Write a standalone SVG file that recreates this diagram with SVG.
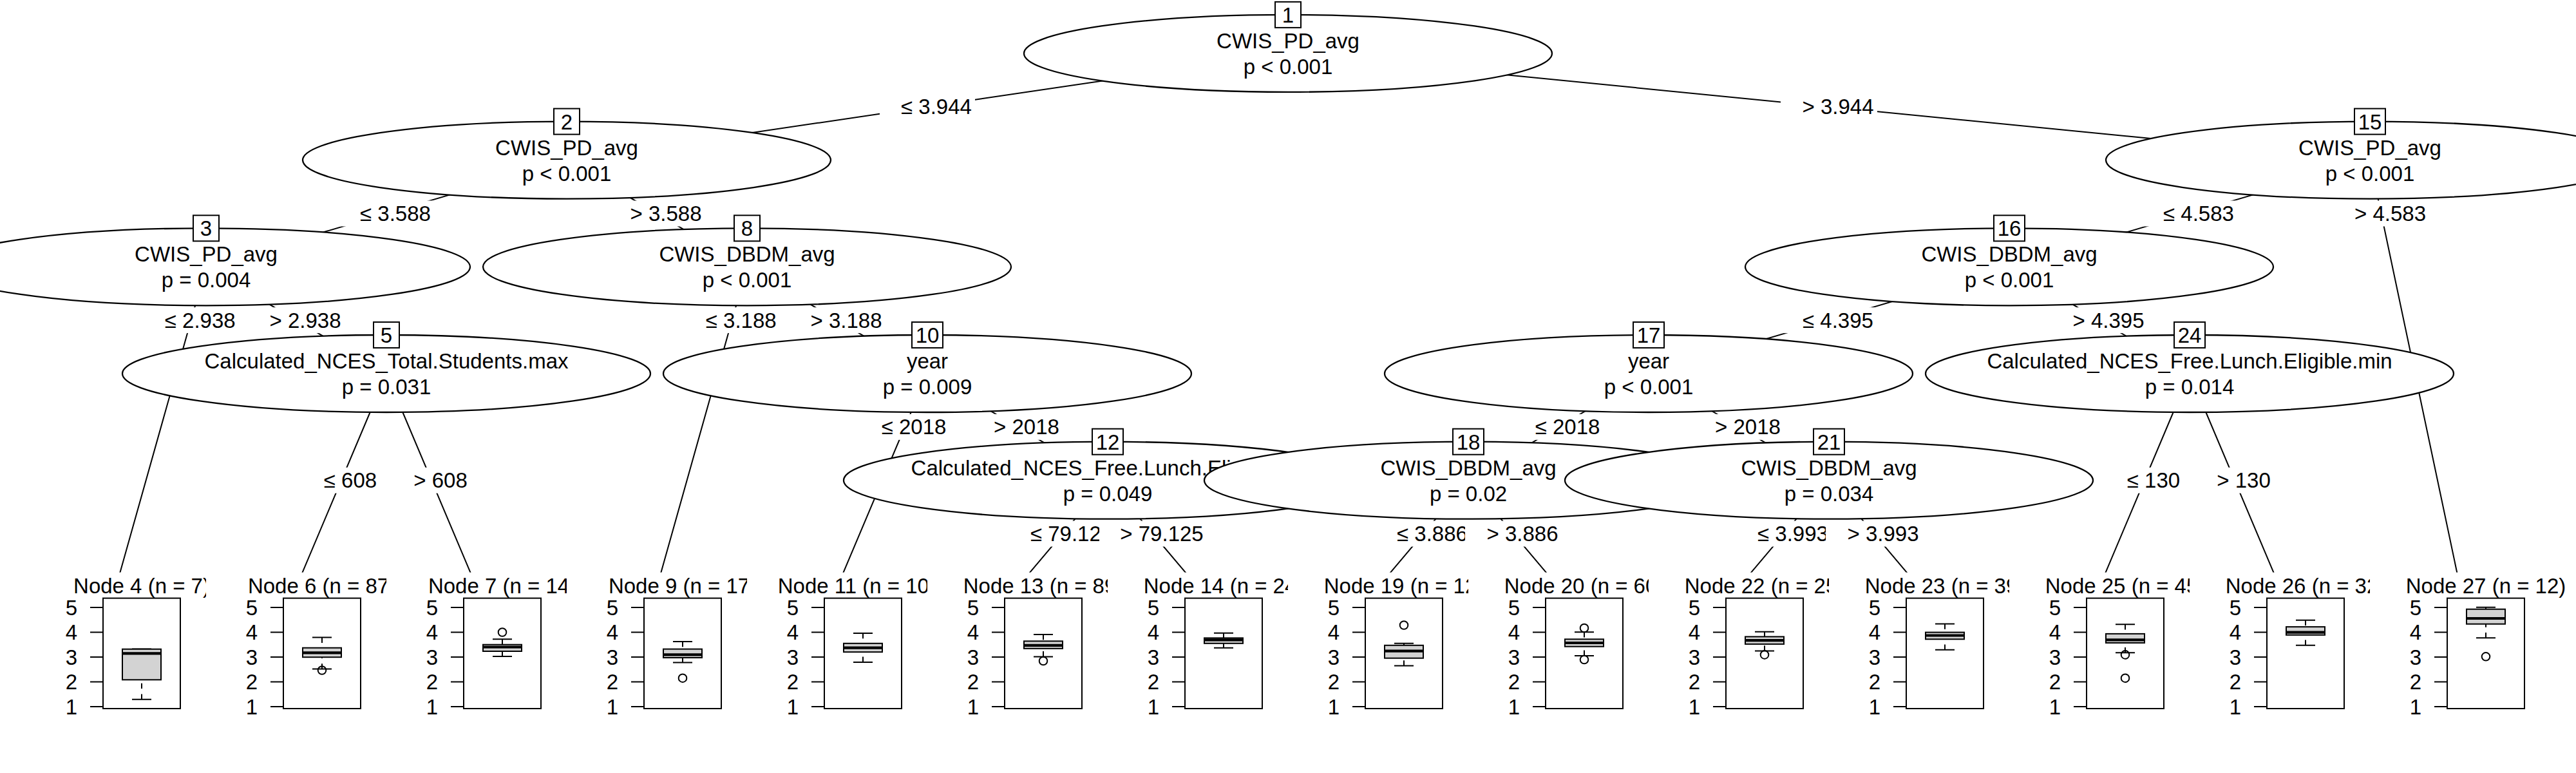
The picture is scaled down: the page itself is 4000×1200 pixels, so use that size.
<svg xmlns="http://www.w3.org/2000/svg" xmlns:xlink="http://www.w3.org/1999/xlink" width="4000" height="1200" viewBox="0 0 4000 1200">
<style>
.t{font-family:"Liberation Sans",Arial,Helvetica,sans-serif;font-size:33px;fill:#000}
.m{text-anchor:middle}
.e{text-anchor:end}
.ell{fill:#fff;stroke:#000;stroke-width:2.3}
.idb{fill:#fff;stroke:#000;stroke-width:2}
.edge{fill:none;stroke:#000;stroke-width:2}
.lb{fill:#fff;stroke:none}
.bg{fill:#fff;stroke:none}
.frame{fill:none;stroke:#000;stroke-width:2}
.tick{fill:none;stroke:#000;stroke-width:2}
.box{fill:#d3d3d3;stroke:#000;stroke-width:2}
.med{fill:none;stroke:#000;stroke-width:4.2}
.wh{fill:none;stroke:#000;stroke-width:2;stroke-dasharray:8.3 8.3}
.cap{fill:none;stroke:#000;stroke-width:2}
.out{fill:none;stroke:#000;stroke-width:2}
</style>
<defs>
<g id="axis">
<rect class="frame" x="-60" y="928.6" width="120" height="171.4"/>
<path class="tick" d="M-80 943H-60M-80 981.5H-60M-80 1020H-60M-80 1058.5H-60M-80 1097H-60"/>
<text class="t e" x="-100" y="954.5">5</text>
<text class="t e" x="-100" y="993">4</text>
<text class="t e" x="-100" y="1031.5">3</text>
<text class="t e" x="-100" y="1070">2</text>
<text class="t e" x="-100" y="1108.5">1</text>
</g>
</defs>
<rect x="0" y="0" width="4000" height="1200" fill="#fff"/>
<g id="connectors">
<path class="edge" d="M2000 82.9L880 248.6M2000 82.9L3680 248.6M880 248.6L320 414.3M880 248.6L1160 414.3M320 414.3L180 911.4M320 414.3L600 580M600 580L460 911.4M600 580L740 911.4M1160 414.3L1020 911.4M1160 414.3L1440 580M1440 580L1300 911.4M1440 580L1720 745.7M1720 745.7L1580 911.4M1720 745.7L1860 911.4M3680 248.6L3120 414.3M3680 248.6L3820 911.4M3120 414.3L2560 580M3120 414.3L3400 580M2560 580L2280 745.7M2560 580L2840 745.7M2280 745.7L2140 911.4M2280 745.7L2420 911.4M2840 745.7L2700 911.4M2840 745.7L2980 911.4M3400 580L3260 911.4M3400 580L3540 911.4"/>
<g id="edge-labels">
<rect class="lb" x="1366" y="145.75" width="148" height="40"/><text class="t m" x="1454" y="177.25">≤ 3.944</text>
<rect class="lb" x="2765" y="145.75" width="150" height="40"/><text class="t m" x="2854" y="177.25">&gt; 3.944</text>
<rect class="lb" x="526" y="311.45" width="148" height="40"/><text class="t m" x="614" y="342.95">≤ 3.588</text>
<rect class="lb" x="945" y="311.45" width="150" height="40"/><text class="t m" x="1034" y="342.95">&gt; 3.588</text>
<rect class="lb" x="222.7" y="477.15" width="148" height="40"/><text class="t m" x="310.7" y="508.65">≤ 2.938</text>
<rect class="lb" x="385" y="477.15" width="150" height="40"/><text class="t m" x="474" y="508.65">&gt; 2.938</text>
<rect class="lb" x="1062.7" y="477.15" width="148" height="40"/><text class="t m" x="1150.7" y="508.65">≤ 3.188</text>
<rect class="lb" x="1225" y="477.15" width="150" height="40"/><text class="t m" x="1314" y="508.65">&gt; 3.188</text>
<rect class="lb" x="471" y="725.7" width="118" height="40"/><text class="t m" x="544" y="757.2">≤ 608</text>
<rect class="lb" x="611" y="725.7" width="118" height="40"/><text class="t m" x="684" y="757.2">&gt; 608</text>
<rect class="lb" x="1338" y="642.85" width="134" height="40"/><text class="t m" x="1419" y="674.35">≤ 2018</text>
<rect class="lb" x="1513" y="642.85" width="134" height="40"/><text class="t m" x="1594" y="674.35">&gt; 2018</text>
<rect class="lb" x="1567" y="808.55" width="166" height="40"/><text class="t m" x="1664" y="840.05">≤ 79.125</text>
<rect class="lb" x="1707" y="808.55" width="166" height="40"/><text class="t m" x="1804" y="840.05">&gt; 79.125</text>
<rect class="lb" x="3326" y="311.45" width="148" height="40"/><text class="t m" x="3414" y="342.95">≤ 4.583</text>
<rect class="lb" x="3622.5" y="311.45" width="150" height="40"/><text class="t m" x="3711.5" y="342.95">&gt; 4.583</text>
<rect class="lb" x="2766" y="477.15" width="148" height="40"/><text class="t m" x="2854" y="508.65">≤ 4.395</text>
<rect class="lb" x="3185" y="477.15" width="150" height="40"/><text class="t m" x="3274" y="508.65">&gt; 4.395</text>
<rect class="lb" x="2353" y="642.85" width="134" height="40"/><text class="t m" x="2434" y="674.35">≤ 2018</text>
<rect class="lb" x="2633" y="642.85" width="134" height="40"/><text class="t m" x="2714" y="674.35">&gt; 2018</text>
<rect class="lb" x="2136" y="808.55" width="148" height="40"/><text class="t m" x="2224" y="840.05">≤ 3.886</text>
<rect class="lb" x="2275" y="808.55" width="150" height="40"/><text class="t m" x="2364" y="840.05">&gt; 3.886</text>
<rect class="lb" x="2696" y="808.55" width="148" height="40"/><text class="t m" x="2784" y="840.05">≤ 3.993</text>
<rect class="lb" x="2835" y="808.55" width="150" height="40"/><text class="t m" x="2924" y="840.05">&gt; 3.993</text>
<rect class="lb" x="3271" y="725.7" width="118" height="40"/><text class="t m" x="3344" y="757.2">≤ 130</text>
<rect class="lb" x="3411" y="725.7" width="118" height="40"/><text class="t m" x="3484" y="757.2">&gt; 130</text>
</g>
</g>
<g id="node1" transform="translate(2000,82.9)"><ellipse class="ell" cx="0" cy="0" rx="410" ry="60"/><rect class="idb" x="-20" y="-80" width="40" height="40"/><text class="t m" x="0" y="-48">1</text><text class="t m" x="0" y="-8">CWIS_PD_avg</text><text class="t m" x="0" y="32">p &lt; 0.001</text></g>
<g id="node2" transform="translate(880,248.6)"><ellipse class="ell" cx="0" cy="0" rx="410" ry="60"/><rect class="idb" x="-20" y="-80" width="40" height="40"/><text class="t m" x="0" y="-48">2</text><text class="t m" x="0" y="-8">CWIS_PD_avg</text><text class="t m" x="0" y="32">p &lt; 0.001</text></g>
<g id="node3" transform="translate(320,414.3)"><ellipse class="ell" cx="0" cy="0" rx="410" ry="60"/><rect class="idb" x="-20" y="-80" width="40" height="40"/><text class="t m" x="0" y="-48">3</text><text class="t m" x="0" y="-8">CWIS_PD_avg</text><text class="t m" x="0" y="32">p = 0.004</text></g>
<g id="node4"><rect class="bg" x="40" y="888.6" width="280" height="211.4"/><text class="t m" x="220" y="920.5">Node 4 (n = 7)</text><use xlink:href="#axis" href="#axis" x="220"/>
<path class="wh" d="M220 1007.5V1007.7M220 1085.7V1055.3"/><path class="cap" d="M205 1007.5H235M205 1085.7H235"/><rect class="box" x="190" y="1007.7" width="60" height="47.6"/><path class="med" d="M190 1014.3H250"/></g>
<g id="node5" transform="translate(600,580)"><ellipse class="ell" cx="0" cy="0" rx="410" ry="60"/><rect class="idb" x="-20" y="-80" width="40" height="40"/><text class="t m" x="0" y="-48">5</text><text class="t m" x="0" y="-8">Calculated_NCES_Total.Students.max</text><text class="t m" x="0" y="32">p = 0.031</text></g>
<g id="node6"><rect class="bg" x="320" y="888.6" width="280" height="211.4"/><text class="t m" x="500" y="920.5">Node 6 (n = 87)</text><use xlink:href="#axis" href="#axis" x="500"/>
<path class="wh" d="M500 989.6V1005.7M500 1038.6V1020.2"/><path class="cap" d="M485 989.6H515M485 1038.6H515"/><rect class="box" x="470" y="1005.7" width="60" height="14.5"/><path class="med" d="M470 1013.3H530"/><circle class="out" cx="500" cy="1040.5" r="6.3"/></g>
<g id="node7"><rect class="bg" x="600" y="888.6" width="280" height="211.4"/><text class="t m" x="780" y="920.5">Node 7 (n = 14)</text><use xlink:href="#axis" href="#axis" x="780"/>
<path class="wh" d="M780 992.3V1000.7M780 1019V1011"/><path class="cap" d="M765 992.3H795M765 1019H795"/><rect class="box" x="750" y="1000.7" width="60" height="10.3"/><path class="med" d="M750 1004.5H810"/><circle class="out" cx="780" cy="981.5" r="6.3"/></g>
<g id="node8" transform="translate(1160,414.3)"><ellipse class="ell" cx="0" cy="0" rx="410" ry="60"/><rect class="idb" x="-20" y="-80" width="40" height="40"/><text class="t m" x="0" y="-48">8</text><text class="t m" x="0" y="-8">CWIS_DBDM_avg</text><text class="t m" x="0" y="32">p &lt; 0.001</text></g>
<g id="node9"><rect class="bg" x="880" y="888.6" width="280" height="211.4"/><text class="t m" x="1060" y="920.5">Node 9 (n = 17)</text><use xlink:href="#axis" href="#axis" x="1060"/>
<path class="wh" d="M1060 996V1007.6M1060 1028.6V1021"/><path class="cap" d="M1045 996H1075M1045 1028.6H1075"/><rect class="box" x="1030" y="1007.6" width="60" height="13.4"/><path class="med" d="M1030 1016.4H1090"/><circle class="out" cx="1060" cy="1052.7" r="6.3"/></g>
<g id="node10" transform="translate(1440,580)"><ellipse class="ell" cx="0" cy="0" rx="410" ry="60"/><rect class="idb" x="-24" y="-80" width="48" height="40"/><text class="t m" x="0" y="-48">10</text><text class="t m" x="0" y="-8">year</text><text class="t m" x="0" y="32">p = 0.009</text></g>
<g id="node11"><rect class="bg" x="1160" y="888.6" width="280" height="211.4"/><text class="t m" x="1340" y="920.5">Node 11 (n = 104)</text><use xlink:href="#axis" href="#axis" x="1340"/>
<path class="wh" d="M1340 983V998.8M1340 1027.9V1012.2"/><path class="cap" d="M1325 983H1355M1325 1027.9H1355"/><rect class="box" x="1310" y="998.8" width="60" height="13.4"/><path class="med" d="M1310 1005.7H1370"/></g>
<g id="node12" transform="translate(1720,745.7)"><ellipse class="ell" cx="0" cy="0" rx="410" ry="60"/><rect class="idb" x="-24" y="-80" width="48" height="40"/><text class="t m" x="0" y="-48">12</text><text class="t m" x="0" y="-8">Calculated_NCES_Free.Lunch.Eligible.sd</text><text class="t m" x="0" y="32">p = 0.049</text></g>
<g id="node13"><rect class="bg" x="1440" y="888.6" width="280" height="211.4"/><text class="t m" x="1620" y="920.5">Node 13 (n = 89)</text><use xlink:href="#axis" href="#axis" x="1620"/>
<path class="wh" d="M1620 985V995.3M1620 1019.4V1006.8"/><path class="cap" d="M1605 985H1635M1605 1019.4H1635"/><rect class="box" x="1590" y="995.3" width="60" height="11.5"/><path class="med" d="M1590 1001.8H1650"/><circle class="out" cx="1620" cy="1026" r="6.3"/></g>
<g id="node14"><rect class="bg" x="1720" y="888.6" width="280" height="211.4"/><text class="t m" x="1900" y="920.5">Node 14 (n = 24)</text><use xlink:href="#axis" href="#axis" x="1900"/>
<path class="wh" d="M1900 982.7V990.4M1900 1005.7V998.8"/><path class="cap" d="M1885 982.7H1915M1885 1005.7H1915"/><rect class="box" x="1870" y="990.4" width="60" height="8.4"/><path class="med" d="M1870 993.4H1930"/></g>
<g id="node15" transform="translate(3680,248.6)"><ellipse class="ell" cx="0" cy="0" rx="410" ry="60"/><rect class="idb" x="-24" y="-80" width="48" height="40"/><text class="t m" x="0" y="-48">15</text><text class="t m" x="0" y="-8">CWIS_PD_avg</text><text class="t m" x="0" y="32">p &lt; 0.001</text></g>
<g id="node16" transform="translate(3120,414.3)"><ellipse class="ell" cx="0" cy="0" rx="410" ry="60"/><rect class="idb" x="-24" y="-80" width="48" height="40"/><text class="t m" x="0" y="-48">16</text><text class="t m" x="0" y="-8">CWIS_DBDM_avg</text><text class="t m" x="0" y="32">p &lt; 0.001</text></g>
<g id="node17" transform="translate(2560,580)"><ellipse class="ell" cx="0" cy="0" rx="410" ry="60"/><rect class="idb" x="-24" y="-80" width="48" height="40"/><text class="t m" x="0" y="-48">17</text><text class="t m" x="0" y="-8">year</text><text class="t m" x="0" y="32">p &lt; 0.001</text></g>
<g id="node18" transform="translate(2280,745.7)"><ellipse class="ell" cx="0" cy="0" rx="410" ry="60"/><rect class="idb" x="-24" y="-80" width="48" height="40"/><text class="t m" x="0" y="-48">18</text><text class="t m" x="0" y="-8">CWIS_DBDM_avg</text><text class="t m" x="0" y="32">p = 0.02</text></g>
<g id="node19"><rect class="bg" x="2000" y="888.6" width="280" height="211.4"/><text class="t m" x="2180" y="920.5">Node 19 (n = 12)</text><use xlink:href="#axis" href="#axis" x="2180"/>
<path class="wh" d="M2180 998.8V1001.8M2180 1033.6V1021.7"/><path class="cap" d="M2165 998.8H2195M2165 1033.6H2195"/><rect class="box" x="2150" y="1001.8" width="60" height="19.9"/><path class="med" d="M2150 1010.6H2210"/><circle class="out" cx="2180" cy="970.5" r="6.3"/></g>
<g id="node20"><rect class="bg" x="2280" y="888.6" width="280" height="211.4"/><text class="t m" x="2460" y="920.5">Node 20 (n = 60)</text><use xlink:href="#axis" href="#axis" x="2460"/>
<path class="wh" d="M2460 981.2V992.3M2460 1017.9V1003.7"/><path class="cap" d="M2445 981.2H2475M2445 1017.9H2475"/><rect class="box" x="2430" y="992.3" width="60" height="11.4"/><path class="med" d="M2430 998H2490"/><circle class="out" cx="2460" cy="975" r="6.3"/><circle class="out" cx="2460" cy="1024" r="6.3"/></g>
<g id="node21" transform="translate(2840,745.7)"><ellipse class="ell" cx="0" cy="0" rx="410" ry="60"/><rect class="idb" x="-24" y="-80" width="48" height="40"/><text class="t m" x="0" y="-48">21</text><text class="t m" x="0" y="-8">CWIS_DBDM_avg</text><text class="t m" x="0" y="32">p = 0.034</text></g>
<g id="node22"><rect class="bg" x="2560" y="888.6" width="280" height="211.4"/><text class="t m" x="2740" y="920.5">Node 22 (n = 25)</text><use xlink:href="#axis" href="#axis" x="2740"/>
<path class="wh" d="M2740 980.8V988.4M2740 1010.6V999.9"/><path class="cap" d="M2725 980.8H2755M2725 1010.6H2755"/><rect class="box" x="2710" y="988.4" width="60" height="11.5"/><path class="med" d="M2710 994.2H2770"/><circle class="out" cx="2740" cy="1016.4" r="6.3"/></g>
<g id="node23"><rect class="bg" x="2840" y="888.6" width="280" height="211.4"/><text class="t m" x="3020" y="920.5">Node 23 (n = 39)</text><use xlink:href="#axis" href="#axis" x="3020"/>
<path class="wh" d="M3020 968.5V981.6M3020 1008.7V992.3"/><path class="cap" d="M3005 968.5H3035M3005 1008.7H3035"/><rect class="box" x="2990" y="981.6" width="60" height="10.7"/><path class="med" d="M2990 986.5H3050"/></g>
<g id="node24" transform="translate(3400,580)"><ellipse class="ell" cx="0" cy="0" rx="410" ry="60"/><rect class="idb" x="-24" y="-80" width="48" height="40"/><text class="t m" x="0" y="-48">24</text><text class="t m" x="0" y="-8">Calculated_NCES_Free.Lunch.Eligible.min</text><text class="t m" x="0" y="32">p = 0.014</text></g>
<g id="node25"><rect class="bg" x="3120" y="888.6" width="280" height="211.4"/><text class="t m" x="3300" y="920.5">Node 25 (n = 45)</text><use xlink:href="#axis" href="#axis" x="3300"/>
<path class="wh" d="M3300 969.3V983.9M3300 1013.3V998"/><path class="cap" d="M3285 969.3H3315M3285 1013.3H3315"/><rect class="box" x="3270" y="983.9" width="60" height="14.1"/><path class="med" d="M3270 993.4H3330"/><circle class="out" cx="3300" cy="1016.4" r="6.3"/><circle class="out" cx="3300" cy="1052.7" r="6.3"/></g>
<g id="node26"><rect class="bg" x="3400" y="888.6" width="280" height="211.4"/><text class="t m" x="3580" y="920.5">Node 26 (n = 32)</text><use xlink:href="#axis" href="#axis" x="3580"/>
<path class="wh" d="M3580 962.8V973.1M3580 1001.8V985.8"/><path class="cap" d="M3565 962.8H3595M3565 1001.8H3595"/><rect class="box" x="3550" y="973.1" width="60" height="12.7"/><path class="med" d="M3550 981.6H3610"/></g>
<g id="node27"><rect class="bg" x="3680" y="888.6" width="280" height="211.4"/><text class="t m" x="3860" y="920.5">Node 27 (n = 12)</text><use xlink:href="#axis" href="#axis" x="3860"/>
<path class="wh" d="M3860 942.7V945.7M3860 990.3V968.7"/><path class="cap" d="M3845 942.7H3875M3845 990.3H3875"/><rect class="box" x="3830" y="945.7" width="60" height="23"/><path class="med" d="M3830 960H3890"/><circle class="out" cx="3860" cy="1019.3" r="6.3"/></g>
</svg>
